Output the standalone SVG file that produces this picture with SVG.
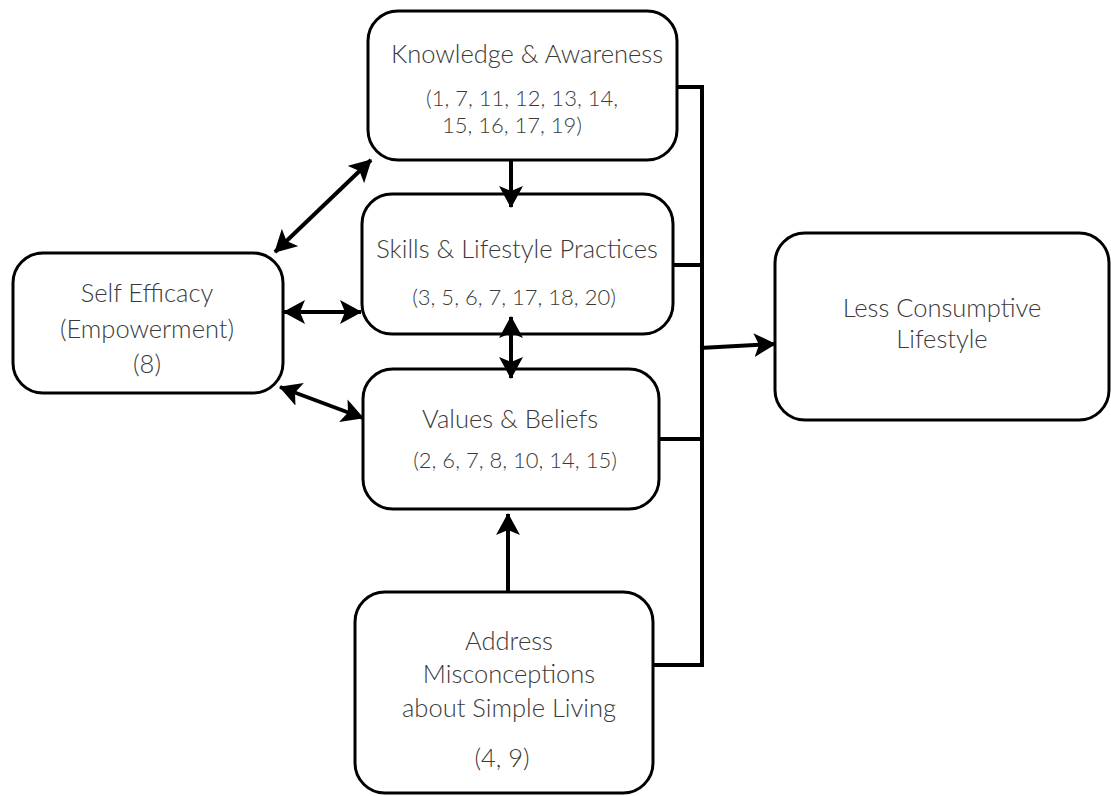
<svg xmlns="http://www.w3.org/2000/svg" width="1111" height="796" viewBox="0 0 1111 796">
<style>
.box{fill:#fff;stroke:#000;stroke-width:3}
.t{font-family:Lato,"Liberation Sans",sans-serif;font-size:25.5px;fill:#3a3a3a;text-anchor:middle;font-weight:300}
.n{font-size:22px}
.c{stroke:#000;stroke-width:4;fill:none}
</style>
<defs>
<marker id="ah" viewBox="0 0 22 24" refX="21" refY="12" markerWidth="22" markerHeight="24" markerUnits="userSpaceOnUse" orient="auto-start-reverse">
<path d="M0,0 L22,12 L0,24 L5,12 Z" fill="#000"/>
</marker>
</defs>
<g id="knowledge">
<rect class="box" x="368" y="11" width="309" height="149" rx="30"/>
<text class="t" x="527" y="63">Knowledge &amp; Awareness</text>
<text class="t n" x="522" y="106">(1, 7, 11, 12, 13, 14,</text>
<text class="t n" x="512" y="133">15, 16, 17, 19)</text>
</g>
<g id="skills">
<rect class="box" x="362" y="194" width="311" height="140" rx="30"/>
<text class="t" x="517" y="258">Skills &amp; Lifestyle Practices</text>
<text class="t n" x="514" y="305">(3, 5, 6, 7, 17, 18, 20)</text>
</g>
<g id="values">
<rect class="box" x="363" y="369" width="296" height="140" rx="30"/>
<text class="t" x="510" y="428">Values &amp; Beliefs</text>
<text class="t n" x="515" y="468">(2, 6, 7, 8, 10, 14, 15)</text>
</g>
<g id="selfefficacy">
<rect class="box" x="13" y="253" width="270" height="140" rx="30"/>
<text class="t" x="147" y="302">Self Efficacy</text>
<text class="t" x="147" y="338">(Empowerment)</text>
<text class="t" x="147" y="373">(8)</text>
</g>
<g id="address">
<rect class="box" x="355" y="592" width="298" height="201" rx="30"/>
<text class="t" x="509" y="650">Address</text>
<text class="t" x="509" y="683">Misconceptions</text>
<text class="t" x="509" y="717">about Simple Living</text>
<text class="t" x="502" y="767">(4, 9)</text>
</g>
<g id="lessconsumptive">
<rect class="box" x="775" y="233" width="334" height="187" rx="30"/>
<text class="t" x="942" y="317">Less Consumptive</text>
<text class="t" x="942" y="348">Lifestyle</text>
</g>
<g id="connectors">
<path class="c" d="M677,87 H702 V665 H653"/>
<path class="c" d="M673,265 H702"/>
<path class="c" d="M659,439 H702"/>
<path class="c" d="M700,348 L775,344" marker-end="url(#ah)"/>
<path class="c" d="M511,160 V207" marker-end="url(#ah)"/>
<path class="c" d="M511,317 V378" marker-start="url(#ah)" marker-end="url(#ah)"/>
<path class="c" d="M508,592 V514" marker-end="url(#ah)"/>
<path class="c" d="M275,252 L371,160" marker-start="url(#ah)" marker-end="url(#ah)"/>
<path class="c" d="M284,312 L361,312" marker-start="url(#ah)" marker-end="url(#ah)"/>
<path class="c" d="M280,387 L363,418" marker-start="url(#ah)" marker-end="url(#ah)"/>
</g>
</svg>
